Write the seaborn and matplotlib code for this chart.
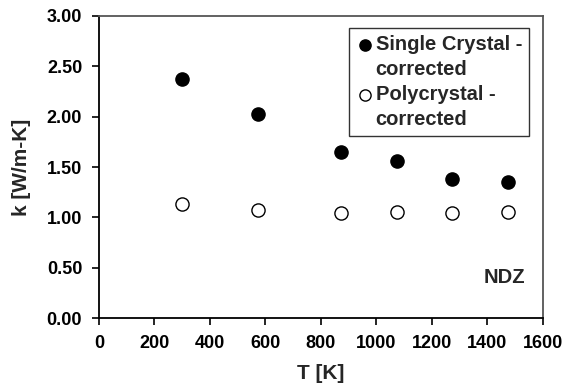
import numpy as np
import pandas as pd
import matplotlib
matplotlib.use("Agg")
import matplotlib.pyplot as plt
import seaborn as sns

# ── Data ─────────────────────────────────────────────────────────────────────
T_K        = [300, 573, 873, 1073, 1273, 1473]
k_single   = [2.37, 2.03, 1.65, 1.56, 1.38, 1.35]
k_poly     = [1.13, 1.07, 1.04, 1.05, 1.04, 1.05]
SERIES     = ["Single Crystal -", "Polycrystal -"]
SUBLABEL   = "corrected"

df = pd.DataFrame({
    "T": T_K * 2,
    "k": k_single + k_poly,
    "series": [SERIES[0]] * len(T_K) + [SERIES[1]] * len(T_K),
})

sns.set_theme(style="white")
plt.rcParams["font.family"] = ["Liberation Sans", "DejaVu Sans"]
plt.rcParams["font.weight"] = "bold"

fig = plt.figure(figsize=(5.65, 3.88), dpi=100)
ax = fig.add_axes([0.175, 0.180, 0.786, 0.779])

faces = {SERIES[0]: "black", SERIES[1]: "white"}
for name in SERIES:
    sub = df[df["series"] == name]
    sns.scatterplot(data=sub, x="T", y="k", ax=ax, s=90, marker="o",
                    color=faces[name], edgecolor="black", linewidth=1.0,
                    label=name, zorder=3)

ax.set_xlim(0, 1600)
ax.set_ylim(0, 3.0)
ax.set_xticks(np.arange(0, 1601, 200))
ax.set_yticks(np.arange(0, 3.01, 0.5))
ax.set_yticklabels([f"{v:.2f}" for v in np.arange(0, 3.01, 0.5)])
ax.tick_params(axis="both", direction="out", length=5, width=1.2,
               labelsize=13, colors="black", left=True, bottom=True)
ax.tick_params(axis="y", pad=7)
ax.tick_params(axis="x", pad=7)
for lbl in ax.get_xticklabels() + ax.get_yticklabels():
    lbl.set_fontweight("bold")

ax.set_xlabel("T [K]", fontsize=15, fontweight="bold", labelpad=9)
ax.set_ylabel("k [W/m-K]", fontsize=15, fontweight="bold", labelpad=11)

for side in ["left", "bottom"]:
    ax.spines[side].set_color("black")
    ax.spines[side].set_linewidth(1.3)
for side in ["top", "right"]:
    ax.spines[side].set_color("#555555")
    ax.spines[side].set_linewidth(1.3)

# legend: marker sits on the first line of each two-line label
handles, labels = ax.get_legend_handles_labels()
blank = plt.Line2D([], [], linestyle="none", marker="none")
leg_h, leg_l = [], []
for h, l in zip(handles, labels):
    leg_h += [h, blank]
    leg_l += [l, SUBLABEL]
leg = ax.legend(leg_h, leg_l, loc="upper right", bbox_to_anchor=(0.9685, 0.960),
                fontsize=14.5, frameon=True, fancybox=False, edgecolor="black",
                handletextpad=0.05, borderpad=0.35, labelspacing=0.3,
                handlelength=0.9, markerscale=0.85, borderaxespad=0)
leg.get_frame().set_linewidth(1.0)
for t in leg.get_texts():
    t.set_fontweight("bold")

ax.text(0.959, 0.136, "NDZ", transform=ax.transAxes, ha="right", va="center",
        fontsize=14.5, fontweight="bold")

fig.savefig("out.png", dpi=100)
